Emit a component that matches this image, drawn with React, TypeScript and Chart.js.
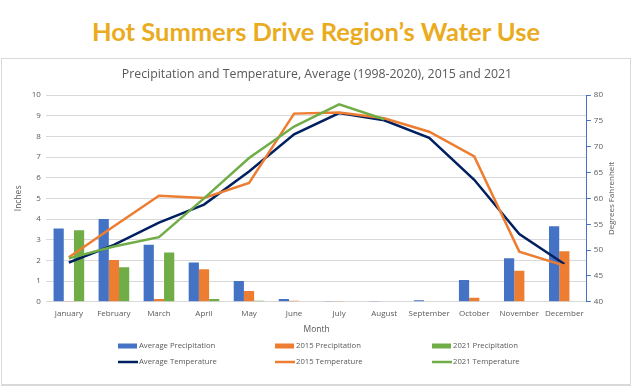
import React, { useEffect, useRef } from 'react';
import { Chart, registerables } from 'chart.js';

Chart.register(...registerables);

const months = ['January', 'February', 'March', 'April', 'May', 'June', 'July', 'August', 'September', 'October', 'November', 'December'];

const avgPrecip = [3.54, 4.0, 2.76, 1.9, 1.0, 0.14, 0.02, 0.02, 0.08, 1.05, 2.1, 3.65];
const precip2015 = [0.02, 2.02, 0.14, 1.57, 0.52, 0.05, 0.02, 0, 0, 0.2, 1.5, 2.45];
const precip2021 = [3.46, 1.67, 2.38, 0.14, 0.05, 0, 0, 0, null, null, null, null];

const avgTemp = [47.6, 51.0, 55.3, 58.8, 65.2, 72.4, 76.5, 75.1, 71.7, 63.6, 53.1, 47.3];
const temp2015 = [48.6, 54.6, 60.5, 60.1, 63.0, 76.4, 76.6, 75.5, 72.9, 68.1, 49.7, 47.0];
const temp2021 = [48.4, 50.7, 52.5, 60.0, 67.8, 73.9, 78.2, 75.3, null, null, null, null];

const BLUE = '#4472C4';
const ORANGE = '#ED7D31';
const GREEN = '#70AD47';
const NAVY = '#002060';
const TEXT = '#595959';
const GRID = '#d9d9d9';
const FONT = "'Open Sans', sans-serif";

export default function App() {
  const ref = useRef<HTMLCanvasElement>(null);

  useEffect(() => {
    document.body.style.margin = '0';
    const canvas = ref.current;
    if (!canvas) return;

    const extras = {
      id: 'extras',
      afterDraw(chart: any) {
        const ctx = chart.ctx;
        const area = chart.chartArea;

        // chart subtitle, centred on the canvas
        ctx.save();
        ctx.fillStyle = TEXT;
        ctx.font = `12.3px ${FONT}`;
        ctx.textAlign = 'center';
        ctx.textBaseline = 'middle';
        ctx.fillText('Precipitation and Temperature, Average (1998-2020), 2015 and 2021', chart.width / 2 + 1, 15);
        ctx.restore();

        // right axis title, reading bottom-to-top
        ctx.save();
        ctx.fillStyle = TEXT;
        ctx.font = `8px ${FONT}`;
        ctx.textAlign = 'center';
        ctx.textBaseline = 'middle';
        ctx.translate(chart.width - 18, (area.top + area.bottom) / 2);
        ctx.rotate(-Math.PI / 2);
        ctx.fillText('Degrees Fahrenheit', 0, 0);
        ctx.restore();

        // legend in a 3 x 2 grid
        ctx.save();
        const colW = 157;
        const startX = chart.width / 2 - 198;
        const rowY = [chart.height - 38, chart.height - 22];
        chart.data.datasets.forEach((ds: any, i: number) => {
          const col = i % 3;
          const row = Math.floor(i / 3);
          const x = startX + col * colW;
          const y = rowY[row];
          if (ds.type === 'line') {
            ctx.strokeStyle = ds.borderColor;
            ctx.lineWidth = 2.5;
            ctx.beginPath();
            ctx.moveTo(x, y);
            ctx.lineTo(x + 20, y);
            ctx.stroke();
          } else {
            ctx.fillStyle = ds.backgroundColor;
            ctx.fillRect(x, y - 2.5, 19, 5);
          }
          ctx.fillStyle = TEXT;
          ctx.font = `7.7px ${FONT}`;
          ctx.textAlign = 'left';
          ctx.textBaseline = 'middle';
          ctx.fillText(ds.label, x + 21, y);
        });
        ctx.restore();
      },
    };

    const chart = new Chart(canvas, {
      type: 'bar',
      data: {
        labels: months,
        datasets: [
          { type: 'bar', label: 'Average Precipitation', data: avgPrecip, backgroundColor: BLUE, yAxisID: 'y', order: 3, categoryPercentage: 0.68, barPercentage: 1.0 },
          { type: 'bar', label: '2015 Precipitation', data: precip2015, backgroundColor: ORANGE, yAxisID: 'y', order: 3, categoryPercentage: 0.68, barPercentage: 1.0 },
          { type: 'bar', label: '2021 Precipitation', data: precip2021, backgroundColor: GREEN, yAxisID: 'y', order: 3, categoryPercentage: 0.68, barPercentage: 1.0 },
          { type: 'line', label: 'Average Temperature', data: avgTemp, borderColor: NAVY, backgroundColor: NAVY, borderWidth: 2.5, pointRadius: 0, yAxisID: 'y1', order: 2 },
          { type: 'line', label: '2015 Temperature', data: temp2015, borderColor: ORANGE, backgroundColor: ORANGE, borderWidth: 2.5, pointRadius: 0, yAxisID: 'y1', order: 1 },
          { type: 'line', label: '2021 Temperature', data: temp2021, borderColor: GREEN, backgroundColor: GREEN, borderWidth: 2.5, pointRadius: 0, yAxisID: 'y1', order: 0 },
        ] as any,
      },
      options: {
        responsive: false,
        animation: false,
        layout: { padding: { left: 8, right: 24, top: 36, bottom: 49 } },
        plugins: {
          legend: { display: false },
          tooltip: { enabled: false },
          title: { display: false },
        },
        scales: {
          x: {
            grid: { display: false },
            border: { display: false },
            ticks: { color: TEXT, font: { family: FONT, size: 8, lineHeight: 1 }, padding: 0, maxRotation: 0, autoSkip: false },
            title: { display: true, text: 'Month', color: TEXT, font: { family: FONT, size: 8.5 }, padding: { top: 7, bottom: 0 } },
          },
          y: {
            position: 'left',
            min: 0,
            max: 10,
            ticks: { stepSize: 1, color: TEXT, font: { family: FONT, size: 8 }, padding: 5.5 },
            grid: { color: GRID, drawTicks: false, lineWidth: 1 },
            border: { display: false },
            title: { display: true, text: 'Inches', color: TEXT, font: { family: FONT, size: 8.5 }, padding: { top: 3, bottom: 3 } },
          },
          y1: {
            position: 'right',
            min: 40,
            max: 80,
            ticks: { stepSize: 5, color: TEXT, font: { family: FONT, size: 8 }, padding: 3 },
            grid: { drawOnChartArea: false, drawTicks: true, tickLength: 4, color: BLUE },
            border: { display: true, color: BLUE, width: 1 },
          },
        },
      },
      plugins: [extras],
    } as any);

    return () => chart.destroy();
  }, []);

  return (
    <div style={{ position: 'relative', width: 632, height: 386, background: '#fff', overflow: 'hidden' }}>
      <div
        style={{
          position: 'absolute',
          top: 0,
          left: 0,
          width: 632,
          height: 61,
          display: 'flex',
          alignItems: 'center',
          justifyContent: 'center',
          fontFamily: 'Lato, sans-serif',
          fontWeight: 700,
          fontSize: 25.5,
          color: '#EAAB1E',
        }}
      >
        Hot Summers Drive Region’s Water Use
      </div>
      <div
        style={{
          position: 'absolute',
          left: 1,
          top: 58,
          width: 628,
          height: 325,
          border: '1px solid #d9d9d9',
          borderBottomWidth: 2,
        }}
      >
        <canvas ref={ref} width={628} height={325} style={{ display: 'block', width: 628, height: 325 }} />
      </div>
    </div>
  );
}
